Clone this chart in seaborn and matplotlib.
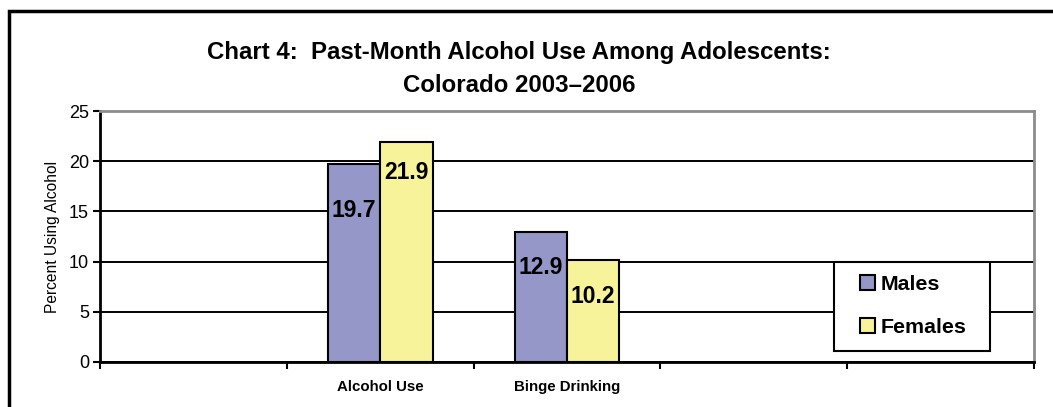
import pandas as pd
import matplotlib
matplotlib.use("Agg")
import matplotlib.pyplot as plt
from matplotlib.patches import Rectangle
import seaborn as sns

# data
slots = ["slot0", "Alcohol Use", "Binge Drinking", "slot3", "slot4"]
slot_labels = ["", "Alcohol Use", "Binge Drinking", "", ""]
measures = ["Alcohol Use", "Alcohol Use", "Binge Drinking", "Binge Drinking"]
sexes = ["Males", "Females", "Males", "Females"]
values = [19.7, 21.9, 12.9, 10.2]
yticks = [0, 5, 10, 15, 20, 25]

df = pd.DataFrame({"measure": measures, "sex": sexes, "pct": values})

sns.set_theme(style="white")
plt.rcParams["font.family"] = ["Liberation Sans", "DejaVu Sans"]
for key in ["text.color", "axes.labelcolor", "xtick.color", "ytick.color"]:
    plt.rcParams[key] = "black"

fig = plt.figure(figsize=(10.53, 4.07), dpi=100)
ax = fig.add_axes([100 / 1053, 1 - 362 / 407, 934 / 1053, 251 / 407])

sns.barplot(data=df, x="measure", y="pct", hue="sex", order=slots,
            hue_order=["Males", "Females"],
            palette={"Males": "#9497C8", "Females": "#F7F39A"},
            width=0.56, gap=0, edgecolor="black", linewidth=1.5,
            saturation=1, ax=ax, zorder=3, legend=False)

ax.set_xlim(-0.5, 4.5)
ax.set_ylim(0, 25)
ax.set_yticks(yticks)
ax.set_yticklabels([str(v) for v in yticks], fontsize=13)
ax.yaxis.grid(True, color="black", linewidth=1.4, zorder=0)
ax.set_axisbelow(True)

ax.set_xticks(range(len(slots)))
ax.set_xticklabels(slot_labels, fontsize=10.8, fontweight="bold")
ax.set_xticks([i - 0.5 for i in range(len(slots) + 1)], minor=True)
ax.tick_params(axis="x", which="major", length=0, pad=13)
ax.tick_params(axis="x", which="minor", length=5, width=1.5, color="black",
               direction="out", bottom=True)
ax.tick_params(axis="y", length=5, width=1.5, color="black", left=True,
               direction="out", pad=3)

ax.set_xlabel("")
ax.set_ylabel("Percent Using Alcohol", fontsize=11.2, labelpad=6)

for side in ["left", "bottom"]:
    ax.spines[side].set_color("black")
    ax.spines[side].set_linewidth(2)
for side in ["top", "right"]:
    ax.spines[side].set_color("#8c8c8c")
    ax.spines[side].set_linewidth(2)
    ax.spines[side].set_visible(True)

# value labels inside the bars (drop below the bar top as in the original)
label_drop = [4.6, 3.0, 3.5, 3.7]
bars = [b for cont in ax.containers for b in cont]
bars = sorted([b for b in bars if b.get_height() == b.get_height() and b.get_height() > 0],
              key=lambda b: b.get_x())
for bar, drop in zip(bars, label_drop):
    h = bar.get_height()
    ax.text(bar.get_x() + bar.get_width() / 2, h - drop, f"{h:.1f}",
            ha="center", va="center", fontsize=16.5, fontweight="bold",
            color="black", zorder=5)

# legend: white box plus frameless entries
ax.add_patch(Rectangle((734 / 934, 11 / 251), 156 / 934, 89 / 251,
                       transform=ax.transAxes, facecolor="white",
                       edgecolor="black", linewidth=1.5, zorder=6))
handles = [Rectangle((0, 0), 1, 1, facecolor=c, edgecolor="black", linewidth=1.5)
           for c in ["#9497C8", "#F7F39A"]]
leg = ax.legend(handles, ["Males", "Females"], loc="upper left",
                bbox_to_anchor=(760 / 934, 0.346), frameon=False,
                prop={"weight": "bold", "size": 15.4},
                handlelength=0.7, handleheight=0.7, handletextpad=0.25,
                labelspacing=1.1, borderpad=0, borderaxespad=0)
leg.set_zorder(7)

title_kw = dict(ha="center", va="center", fontsize=17.3, fontweight="bold")
fig.text(519 / 1053, 1 - 52 / 407,
         "Chart 4:  Past-Month Alcohol Use Among Adolescents:", **title_kw)
fig.text(519 / 1053, 1 - 85 / 407, "Colorado 2003\u20132006", **title_kw)

fig.add_artist(Rectangle((8.5 / 1053, -0.1), 1.2, 1 - 11 / 407 + 0.1,
                         transform=fig.transFigure, fill=False,
                         edgecolor="black", linewidth=2.5))

fig.savefig("out.png", dpi=100)
